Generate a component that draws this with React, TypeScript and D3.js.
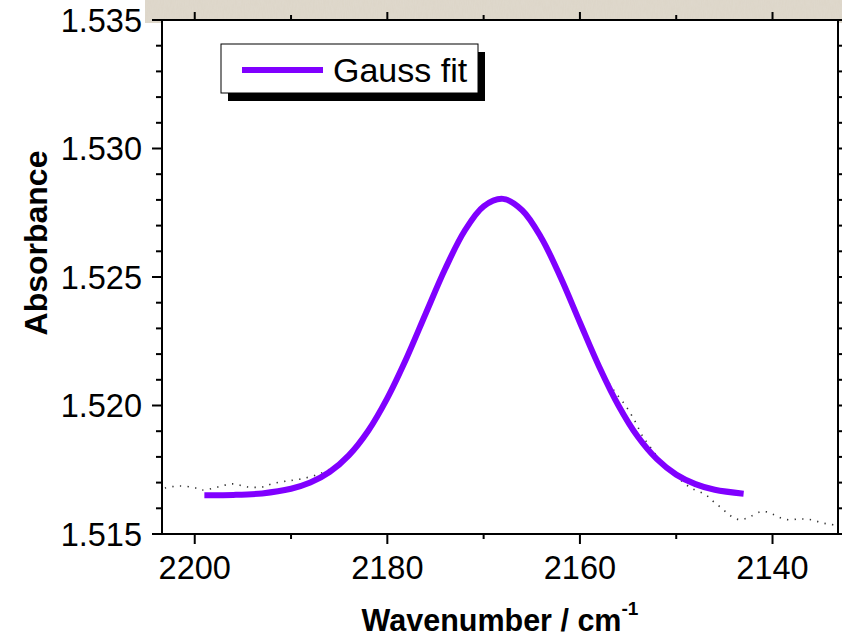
import React from "react";
import * as d3 from "d3";

// Gauss fit curve (wavenumber, absorbance)
const fitX = [2199, 2196, 2193, 2190, 2188, 2186, 2184, 2182, 2180, 2178, 2176, 2174, 2172, 2170, 2168, 2166, 2164, 2162, 2160, 2158, 2156, 2154, 2152, 2150, 2148, 2146, 2143];
const fitY = [1.51651, 1.51652, 1.51658, 1.51676, 1.517, 1.51741, 1.51806, 1.51901, 1.52029, 1.52185, 1.52359, 1.52531, 1.52678, 1.52775, 1.52804, 1.5276, 1.52652, 1.52498, 1.52323, 1.52151, 1.52, 1.51879, 1.51791, 1.51731, 1.51694, 1.51672, 1.51657];

// Measured spectrum (dotted)
const dataX = [2203.1, 2201.6, 2199.9, 2199.2, 2197.6, 2196.1, 2194.5, 2193.0, 2192.0, 2190.5, 2189.0, 2187, 2185, 2183, 2181, 2179, 2177, 2175, 2173, 2171, 2169, 2167, 2165, 2163, 2161, 2159, 2157.5, 2156.5, 2155.3, 2154.3, 2153.5, 2153.0, 2151.5, 2150, 2148.5, 2146.9, 2146.1, 2145.3, 2144.5, 2143.7, 2143.0, 2142.2, 2141.3, 2140.6, 2139.8, 2139.1, 2138.3, 2137.4, 2136.7, 2135.9, 2135.1, 2134.3, 2133.5];
const dataY = [1.51679, 1.51687, 1.51679, 1.51671, 1.51683, 1.51695, 1.51683, 1.51683, 1.51695, 1.51706, 1.51714, 1.51735, 1.51775, 1.5185, 1.5196, 1.52105, 1.5227, 1.52445, 1.5261, 1.5273, 1.52795, 1.5279, 1.5271, 1.52585, 1.5242, 1.52245, 1.5212, 1.5206, 1.52002, 1.5194, 1.51881, 1.51854, 1.5178, 1.51725, 1.5168, 1.51652, 1.51625, 1.51601, 1.51575, 1.51558, 1.51558, 1.5157, 1.51586, 1.51586, 1.51574, 1.51562, 1.51555, 1.51558, 1.51558, 1.51555, 1.51546, 1.51539, 1.51535];

const xMajor = [2200, 2180, 2160, 2140];
const xMinor = [2190, 2170, 2150];
const yMajor = [1.515, 1.52, 1.525, 1.53, 1.535];
const yMinor = [1.516, 1.517, 1.518, 1.519, 1.521, 1.522, 1.523, 1.524, 1.526, 1.527, 1.528, 1.529, 1.531, 1.532, 1.533, 1.534];

const legendLabel = "Gauss fit";
const xTitle = "Wavenumber / cm";
const yTitle = "Absorbance";

export default function App() {
  const L = 162, R = 838, T = 20, B = 534;
  const x = d3.scaleLinear().domain([2203.4, 2133.2]).range([L, R]);
  const y = d3.scaleLinear().domain([1.515, 1.535]).range([B, T]);

  const fitPts: [number, number][] = fitX.map((v, i) => [v, fitY[i]]);
  const dataPts: [number, number][] = dataX.map((v, i) => [v, dataY[i]]);
  const line = d3.line<[number, number]>().x(d => x(d[0])).y(d => y(d[1])).curve(d3.curveCatmullRom);
  const font = "'Liberation Sans', Arial, sans-serif";

  return (
    <svg width={842} height={640} style={{ position: "absolute", left: 0, top: 0, background: "#fff" }} fontFamily={font}>
      <defs>
        <filter id="tex" x="0" y="0" width="100%" height="100%">
          <feTurbulence type="fractalNoise" baseFrequency="0.9 0.15" numOctaves="2" seed="3" />
          <feColorMatrix type="matrix" values="0 0 0 0 0.78  0 0 0 0 0.75  0 0 0 0 0.69  0 0 0 -1.2 0.9" />
          <feComposite in2="SourceGraphic" operator="in" />
        </filter>
      </defs>
      {/* textured background strip at top */}
      <rect x={145} y={0} width={697} height={23} fill="#ddd6c9" />
      <rect x={145} y={0} width={697} height={23} fill="#000" filter="url(#tex)" opacity={0.3} />
      <rect x={L} y={T} width={R - L} height={B - T} fill="#fff" />

      {/* data dotted */}
      <path d={line(dataPts) || ""} fill="none" stroke="#333" strokeWidth={1.6} strokeDasharray="1.3 6.3" strokeLinecap="butt" />
      {/* Gauss fit */}
      <path d={line(fitPts) || ""} fill="none" stroke="#8000ff" strokeWidth={6} />

      {/* frame */}
      <rect x={L} y={T} width={R - L} height={B - T} fill="none" stroke="#000" strokeWidth={2} />

      {/* x ticks */}
      {xMajor.map(v => (
        <g key={"xm" + v}>
          <line x1={x(v)} x2={x(v)} y1={B} y2={B + 10} stroke="#000" strokeWidth={2} />
          <line x1={x(v)} x2={x(v)} y1={T} y2={T - 8} stroke="#000" strokeWidth={2} />
          <text x={x(v)} y={579} textAnchor="middle" fontSize={32.5}>{v}</text>
        </g>
      ))}
      {xMinor.map(v => (
        <g key={"xn" + v}>
          <line x1={x(v)} x2={x(v)} y1={B} y2={B + 5} stroke="#000" strokeWidth={2} />
          <line x1={x(v)} x2={x(v)} y1={T} y2={T - 5} stroke="#000" strokeWidth={2} />
        </g>
      ))}
      {/* y ticks */}
      {yMajor.map(v => (
        <g key={"ym" + v}>
          <line x1={L} x2={L - 10} y1={y(v)} y2={y(v)} stroke="#000" strokeWidth={2} />
          <line x1={R} x2={R + 10} y1={y(v)} y2={y(v)} stroke="#000" strokeWidth={2} />
          <text x={142} y={y(v) + 11.5} textAnchor="end" fontSize={32.5}>{v.toFixed(3)}</text>
        </g>
      ))}
      {yMinor.map(v => (
        <g key={"yn" + v}>
          <line x1={L} x2={L - 6} y1={y(v)} y2={y(v)} stroke="#000" strokeWidth={2} />
          <line x1={R} x2={R + 6} y1={y(v)} y2={y(v)} stroke="#000" strokeWidth={2} />
        </g>
      ))}

      {/* axis titles */}
      <text transform="translate(47,243) rotate(-90)" textAnchor="middle" fontSize={32} fontWeight="bold">{yTitle}</text>
      <text x={500} y={631} textAnchor="middle" fontSize={30.5} fontWeight="bold">
        {xTitle}
        <tspan fontSize={19} dy={-16}>-1</tspan>
      </text>

      {/* legend */}
      <rect x={228} y={52} width={257} height={49} fill="#000" />
      <rect x={221} y={44} width={257} height={49} fill="#fff" stroke="#000" strokeWidth={1} />
      <line x1={242} x2={323} y1={70} y2={70} stroke="#8000ff" strokeWidth={6} />
      <text x={333} y={82} fontSize={34}>{legendLabel}</text>
    </svg>
  );
}
